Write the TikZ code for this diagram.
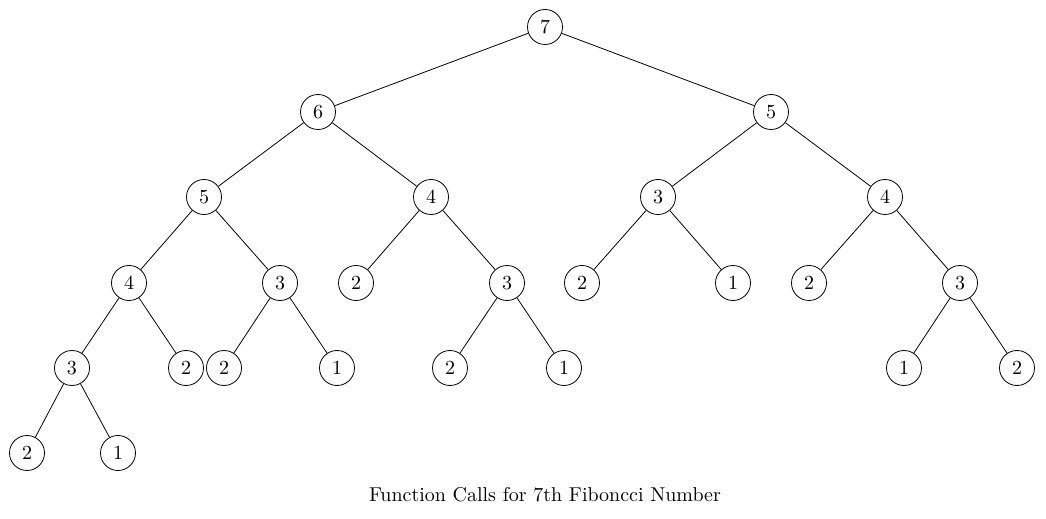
\documentclass[tikz,border=0pt]{standalone}
\begin{document}
\begin{tikzpicture}[x=0.5pt,y=-0.5pt,
  fib/.style={circle,draw,thin,minimum size=17.5pt,inner sep=0pt},
  edge/.style={draw,thin}]
\useasboundingbox (0,0) rectangle (1046,519);
% level 0
\node[fib] (r) at (545,27) {7};
% level 1
\node[fib] (a) at (318,112) {6};
\node[fib] (b) at (771,112) {5};
% level 2
\node[fib] (aa) at (204,197) {5};
\node[fib] (ab) at (431,197) {4};
\node[fib] (ba) at (658,197) {3};
\node[fib] (bb) at (885,197) {4};
% level 3
\node[fib] (aaa) at (129,283) {4};
\node[fib] (aab) at (280,283) {3};
\node[fib] (aba) at (356,283) {2};
\node[fib] (abb) at (507,283) {3};
\node[fib] (baa) at (582,283) {2};
\node[fib] (bab) at (733,283) {1};
\node[fib] (bba) at (809,283) {2};
\node[fib] (bbb) at (960,283) {3};
% level 4
\node[fib] (aaaa) at (72,368) {3};
\node[fib] (aaab) at (186,368) {2};
\node[fib] (aaba) at (224,368) {2};
\node[fib] (aabb) at (337,368) {1};
\node[fib] (abba) at (450,368) {2};
\node[fib] (abbb) at (564,368) {1};
\node[fib] (bbba) at (904,368) {1};
\node[fib] (bbbb) at (1017,368) {2};
% level 5
\node[fib] (aaaaa) at (27,453) {2};
\node[fib] (aaaab) at (118,453) {1};
% caption
\node (cap) at (545,495) {Function Calls for 7th Fiboncci Number};
% edges
\foreach \p/\c in {r/a,r/b,a/aa,a/ab,b/ba,b/bb,aa/aaa,aa/aab,ab/aba,ab/abb,ba/baa,ba/bab,bb/bba,bb/bbb,
  aaa/aaaa,aaa/aaab,aab/aaba,aab/aabb,abb/abba,abb/abbb,bbb/bbba,bbb/bbbb,aaaa/aaaaa,aaaa/aaaab}
  \draw[edge] (\p) -- (\c);
\end{tikzpicture}
\end{document}
